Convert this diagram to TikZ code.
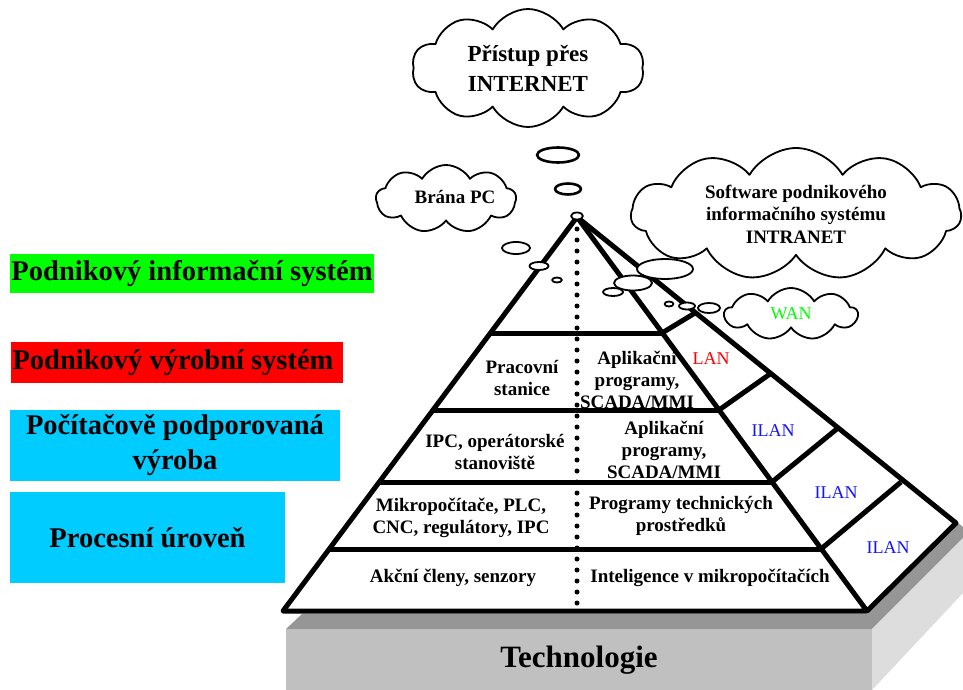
\documentclass[tikz,border=0pt]{standalone}
\usepackage{fontspec}
\setmainfont{Liberation Serif}
\usetikzlibrary{shapes.symbols}
\definecolor{layergreen}{RGB}{0,255,0}
\definecolor{layerred}{RGB}{255,0,0}
\definecolor{layercyan}{RGB}{0,204,255}
\definecolor{slabfront}{RGB}{192,192,192}
\definecolor{slabtop}{RGB}{150,150,150}
\definecolor{slabside}{RGB}{221,221,221}
\definecolor{netblue}{RGB}{20,20,255}
\begin{document}
\begin{tikzpicture}[x=1pt,y=-1pt,line join=round,
  tier/.style={font=\bfseries\fontsize{19}{22}\selectfont, align=center, inner sep=0pt},
  net/.style={font=\fontsize{18}{20}\selectfont, inner sep=0pt},
  layer/.style={font=\bfseries\fontsize{28.5}{35}\selectfont, align=center, inner sep=0pt},
  puff/.style={cloud, draw, fill=white, line width=1.8pt, cloud ignores aspect,
    cloud puff arc=120, inner sep=0pt, align=center,
    font=\bfseries\fontsize{19}{22.5}\selectfont},
  bub/.style={draw, fill=white, line width=1.8pt},
  edge/.style={line width=5pt},
]
\useasboundingbox (0,0) rectangle (963,690);

% layer labels on the left
\node[layer, fill=layergreen, minimum width=364, minimum height=39] (lis) at (192,273.5) {Podnikový informační systém};
\node[layer, fill=layerred, minimum width=332, minimum height=41] (lvs) at (177,362.5) {Podnikový výrobní systém\hspace*{8pt}};
\node[layer, fill=layercyan, minimum width=330, minimum height=71] (lpv) at (175,445.5) {Počítačově podporovaná\\výroba};
\node[layer, fill=layercyan, minimum width=275, minimum height=91] (lpu) at (147.5,537.5) {Procesní úroveň};

% base slab
\fill[slabtop] (286,629) -- (302,614) -- (867,614) -- (958,523) -- (963,527) -- (963,538) -- (872,629) -- cycle;
\fill[slabside] (872,629) -- (963,538) -- (963,593) -- (872,690) -- cycle;
\fill[slabfront] (286,629) rectangle (872,690);
\node[font=\bfseries\fontsize{31}{31}\selectfont, inner sep=0pt] (tech) at (579,660) {Technologie};

% pyramid
\coordinate (A) at (577,217);
\coordinate (BL) at (283,611);
\coordinate (BR) at (867,611);
\coordinate (SR) at (956,523);
\fill[white] (A) -- (BL) -- (BR) -- (SR) -- cycle;

% levels of the front face
\draw[edge] (490,333) -- (662,333);
\draw[edge] (433,410) -- (719,410);
\draw[edge] (379,482) -- (772,482);
\draw[edge] (329,549) -- (821,549);
% segments of the side face
\draw[edge] (662,333) -- (695,313);
\draw[edge] (719,410) -- (770,374);
\draw[edge] (772,482) -- (838,428);
\draw[edge] (821,549) -- (901,482);
% outline
\draw[edge] (A) -- (BL) -- (BR) -- cycle;
\draw[edge] (A) -- (SR) -- (BR);
% centre divider
\draw[line width=5pt, line cap=round, dash pattern=on 0pt off 11pt] (577,229) -- (577,611);

% texts of the front face
\node[tier] (t1l) at (522,378) {Pracovní\\stanice};
\node[tier] (t1r) at (637,380) {Aplikační\\programy,\\SCADA/MMI};
\node[tier] (t2l) at (495,452) {IPC, operátorské\\stanoviště};
\node[tier] (t2r) at (664,450) {Aplikační\\programy,\\SCADA/MMI};
\node[tier] (t3l) at (461,518) {Mikropočítače, PLC,\\CNC, regulátory, IPC};
\node[tier] (t3r) at (681,516) {Programy technických\\prostředků};
\node[tier] (t4l) at (453,578) {Akční členy, senzory};
\node[tier] (t4r) at (710,578) {Inteligence v mikropočítačích};

% network labels of the side face
\node[net, text=layerred] (lan) at (711,359) {LAN};
\node[net, text=netblue] (ilan1) at (773,431) {ILAN};
\node[net, text=netblue] (ilan2) at (836,493) {ILAN};
\node[net, text=netblue] (ilan3) at (888,548) {ILAN};

% thought bubbles
\draw[bub] (577,216) ellipse [x radius=6, y radius=3.5];
\draw[bub, line width=2.6pt] (558,155) ellipse [x radius=21, y radius=7.5];
\draw[bub, line width=2.6pt] (568,189) ellipse [x radius=13, y radius=5.5];
\draw[bub] (516,248) ellipse [x radius=14, y radius=6];
\draw[bub] (539,266) ellipse [x radius=9.5, y radius=4];
\draw[bub] (557,280) ellipse [x radius=5, y radius=2.5];
\draw[bub] (665,269) ellipse [x radius=28, y radius=10];
\draw[bub] (633,283) ellipse [x radius=19, y radius=7.5];
\draw[bub] (613,292) ellipse [x radius=10, y radius=4];
\draw[bub] (669,304) ellipse [x radius=4.5, y radius=2.5];
\draw[bub] (687,306) ellipse [x radius=8, y radius=3.5];
\draw[bub] (709,308) ellipse [x radius=11, y radius=5];

% clouds
\node[puff, cloud puffs=10, minimum width=232, minimum height=118, font=\bfseries\fontsize{23}{30}\selectfont] (inet) at (528,68) {Přístup přes\\INTERNET};
\node[puff, cloud puffs=9, minimum width=140, minimum height=68] (brana) at (446,199) {};
\node[font=\bfseries\fontsize{19}{22}\selectfont, inner sep=0pt] (branatxt) at (455,197) {Brána PC};
\node[puff, cloud puffs=11, minimum width=330, minimum height=132] (intra) at (796,214) {Software podnikového\\informačního systému\\INTRANET};
\node[puff, cloud puffs=9, minimum width=133, minimum height=52, font=\fontsize{18}{20}\selectfont, text=layergreen] (wan) at (791,314) {WAN};
\end{tikzpicture}
\end{document}
